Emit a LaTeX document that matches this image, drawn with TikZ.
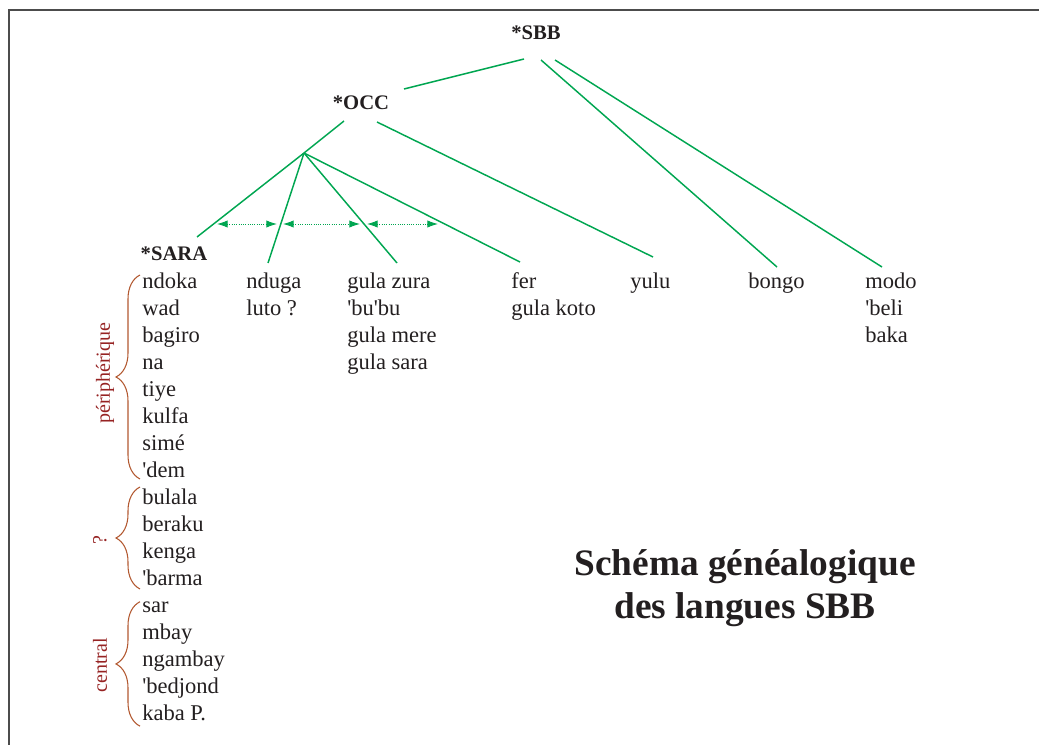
\documentclass[tikz,border=0pt]{standalone}
\usepackage{fontspec}
\setmainfont{Liberation Serif}[Ligatures=TeXOff]
\usepackage{tikz}
\usetikzlibrary{arrows.meta,decorations.pathreplacing}
\definecolor{treegreen}{RGB}{0,166,81}
\definecolor{bracebrown}{RGB}{178,88,48}
\definecolor{grpred}{RGB}{150,35,35}
\definecolor{inkgray}{RGB}{35,31,32}

\begin{document}
\begin{tikzpicture}[x=0.75pt, y=-0.75pt,
  proto/.style={inner sep=0pt, anchor=base, text=inkgray, font=\bfseries\fontsize{15.5}{18}\selectfont},
  lang/.style={inner sep=0pt, anchor=north west, align=left, text=inkgray, font=\fontsize{16.9}{20.25}\selectfont},
  branch/.style={treegreen, line width=1.1pt},
  shuttle/.style={treegreen, densely dotted, line width=0.7pt, {Latex[length=8pt,width=5.5pt]}-{Latex[length=8pt,width=5.5pt]}},
  grpbrace/.style={bracebrown, line width=0.8pt, decorate, decoration={brace, amplitude=18pt}},
  grplabel/.style={grpred, rotate=90, inner sep=0pt, font=\fontsize{15}{18}\selectfont}]
  \useasboundingbox (0,0) rectangle (1039,745);
  \draw[black!70, line width=1.6pt] (9,745) -- (9,10) -- (1039,10);

  % proto-languages
  \node[proto] (sbb) at (536,40) {*SBB};
  \node[proto] (occ) at (361,110) {*OCC};
  \node[proto] (sara) at (174,261) {*SARA};
  \coordinate (fork) at (304,153);

  % languages (tops of the first lines)
  \node[lang] (peri) at (142,272.6) {ndoka\\wad\\bagiro\\na\\tiye\\kulfa\\simé\\'dem};
  \node[lang] (unk) at (142,488.6) {bulala\\beraku\\kenga\\'barma};
  \node[lang] (cent) at (142,601.7) {sar\\mbay\\ngambay\\'bedjond\\kaba P.};
  \node[lang] (nduga) at (246,272.6) {nduga\\luto ?};
  \node[lang] (gula) at (347,272.6) {gula zura\\'bu'bu\\gula mere\\gula sara};
  \node[lang] (fer) at (511,272.6) {fer\\gula koto};
  \node[lang] (yulu) at (630,272.6) {yulu};
  \node[lang] (bongo) at (748,272.6) {bongo};
  \node[lang] (modo) at (865,272.6) {modo\\'beli\\baka};

  % tree
  \draw[branch] ([shift={(-12,19)}]sbb.base) -- ([shift={(43,-21)}]occ.base);
  \draw[branch] ([shift={(5,20)}]sbb.base) -- ([shift={(29,-5.6)}]bongo.north west);
  \draw[branch] ([shift={(19,20)}]sbb.base) -- ([shift={(17,-5.6)}]modo.north west);
  \draw[branch] ([shift={(16,12)}]occ.base) -- ([shift={(23,-15.6)}]yulu.north west);
  \draw[branch] ([shift={(-17,11)}]occ.base) -- (fork);
  \draw[branch] (fork) -- ([shift={(23,-24)}]sara.base);
  \draw[branch] (fork) -- ([shift={(22,-9.6)}]nduga.north west);
  \draw[branch] (fork) -- ([shift={(50,-9.6)}]gula.north west);
  \draw[branch] (fork) -- ([shift={(9,-10.6)}]fer.north west);

  \foreach \a/\b in {217/277, 283/360, 367/438} {
    \coordinate (from) at (\a,224);
    \coordinate (to) at (\b,224);
    \draw[shuttle] (from) -- (to);
  }

  % groups of *SARA
  \draw[grpbrace] ([shift={(-2,1)}]peri.south west) -- ([shift={(-2,2.4)}]peri.north west);
  \draw[grpbrace] ([shift={(-2,3)}]unk.south west) -- ([shift={(-2,-1.6)}]unk.north west);
  \draw[grpbrace] ([shift={(-2,5)}]cent.south west) -- ([shift={(-2,0)}]cent.north west);
  \node[grplabel] (lperi) at ([shift={(-37,-2)}]peri.west) {périphérique};
  \node[grplabel] (lunk) at ([shift={(-42,3)}]unk.west) {?};
  \node[grplabel] (lcent) at ([shift={(-42,4)}]cent.west) {central};

  \node[align=center, text=inkgray, font=\bfseries\fontsize{28}{32}\selectfont] (title) at (745,588) {Schéma généalogique\\des langues SBB};
\end{tikzpicture}
\end{document}
